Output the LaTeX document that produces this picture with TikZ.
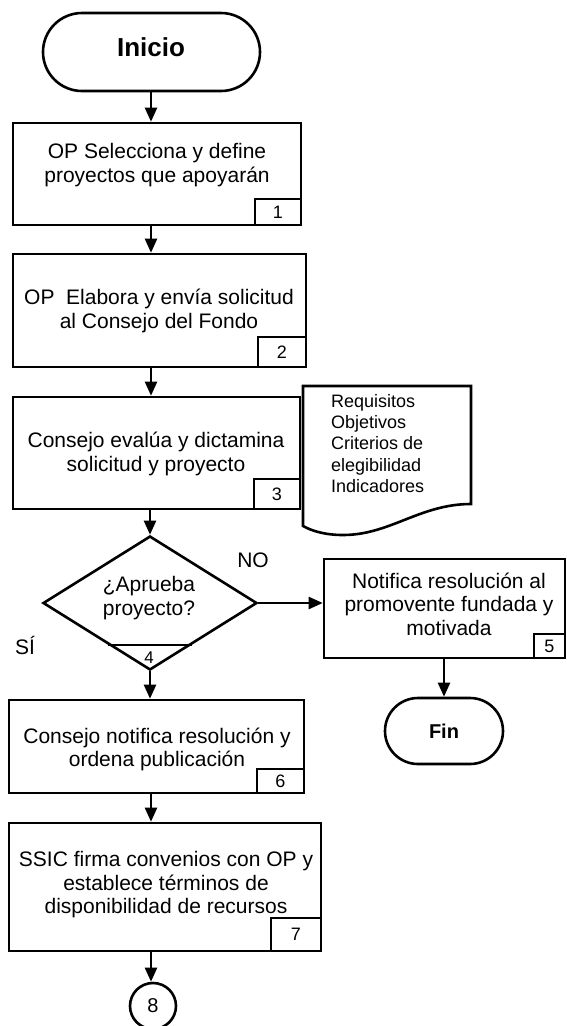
\documentclass[tikz,border=0pt]{standalone}
\usepackage{fontspec}
\setmainfont{Liberation Sans}
\usetikzlibrary{shapes.geometric,shapes.misc,arrows.meta,calc}
\begin{document}
\begin{tikzpicture}[x=1pt,y=-1pt,
  every node/.style={inner sep=0pt},
  box/.style={draw, line width=2.6pt, rectangle},
  txt/.style={font=\fontsize{21}{23.5}\selectfont, align=center},
  num/.style={draw, line width=2.6pt, font=\fontsize{18}{18}\selectfont, anchor=south east},
  term/.style={draw, line width=2.6pt, rounded rectangle},
  arr/.style={line width=2.3pt, -{Triangle[length=14pt,width=12pt]}},
  thick2/.style={line width=2.6pt, line join=miter}
]
\useasboundingbox (0,0) rectangle (566,1026);
\coordinate (colx) at (151,0);

% start terminal
\node[term, minimum width=217, minimum height=78] (ini) at (151.5,52) {};
\node[font=\fontsize{26}{30}\selectfont\bfseries] (initxt) at (151,47.7) {Inicio};

% step 1
\node[box, minimum width=288, minimum height=102] (b1) at (157,174) {};
\node[txt] (t1) at (157,165.3) {OP Selecciona y define\\proyectos que apoyarán};
\node[num, minimum width=46, minimum height=26] (n1) at (b1.south east) {1};

% step 2
\node[box, minimum width=293, minimum height=113] (b2) at (159.5,310.5) {};
\node[txt] (t2) at (159,311) {OP\ \ Elabora y envía solicitud\\al Consejo del Fondo};
\node[num, minimum width=48, minimum height=30] (n2) at (b2.south east) {2};

% step 3
\node[box, minimum width=287, minimum height=112] (b3) at (156.5,453) {};
\node[txt] (t3) at (156,453.7) {Consejo evalúa y dictamina\\solicitud y proyecto};
\node[num, minimum width=46, minimum height=30] (n3) at (b3.south east) {3};

% document
\draw[thick2] (303,386) -- (471,386) -- (471,504)
  .. controls (420,504) and (390,535) .. (343,535)
  .. controls (325,535) and (312,531) .. (303,526) -- cycle;
\node[font=\fontsize{18}{21.3}\selectfont, align=left, anchor=north west] (doc) at (331,394)
  {Requisitos\\Objetivos\\Criterios de\\elegibilidad\\Indicadores};

% decision
\node[draw, diamond, aspect=1.6, line width=2.6pt, minimum width=214, minimum height=134] (dia) at (150,603) {};
\node[txt] (diatxt) at (149,598) {¿Aprueba\\proyecto?};
\draw[thick2] ($(dia.south)!0.388!(dia.west)$) -- ($(dia.south)!0.388!(dia.east)$);
\node[font=\fontsize{17}{17}\selectfont] (n4) at (149,658) {4};
\node[font=\fontsize{21}{24}\selectfont] (no) at (253,560) {NO};
\node[font=\fontsize{21}{24}\selectfont, anchor=base west] (si) at (15,654) {SÍ};

% step 5
\node[box, minimum width=241, minimum height=99] (b5) at (444.5,608.5) {};
\node[txt] (t5) at (449,604) {Notifica resolución al\\promovente fundada y\\motivada};
\node[num, minimum width=31, minimum height=24] (n5) at (b5.south east) {5};

% end terminal
\node[term, minimum width=118, minimum height=66, font=\fontsize{20}{24}\selectfont\bfseries] (fin) at (444,731) {Fin};

% step 6
\node[box, minimum width=295, minimum height=93] (b6) at (156.5,746.5) {};
\node[txt] (t6) at (157,749.3) {Consejo notifica resolución y\\ordena publicación};
\node[num, minimum width=47, minimum height=24] (n6) at (b6.south east) {6};

% step 7
\node[box, minimum width=312, minimum height=128] (b7) at (165,887) {};
\node[txt] (t7) at (166,885) {SSIC firma convenios con OP y\\establece términos de\\disponibilidad de recursos};
\node[num, minimum width=50, minimum height=33] (n7) at (b7.south east) {7};

% connector
\node[draw, circle, line width=2.6pt, minimum size=46, font=\fontsize{20}{22}\selectfont] (c8) at (153,1006) {8};

% arrows
\draw[arr] (ini.south -| colx) -- (b1.north -| colx);
\draw[arr] (b1.south -| colx) -- (b2.north -| colx);
\draw[arr] (b2.south -| colx) -- (b3.north -| colx);
\draw[arr] (b3.south -| dia.north) -- (dia.north);
\draw[arr] (dia.east) -- (b5.west |- dia.east);
\draw[arr] (b5.south -| fin.north) -- (fin.north);
\draw[arr] (dia.south) -- (b6.north -| dia.south);
\draw[arr] (b6.south -| colx) -- (b7.north -| colx);
\draw[arr] (b7.south -| colx) -- (colx |- c8.north);
\end{tikzpicture}
\end{document}
